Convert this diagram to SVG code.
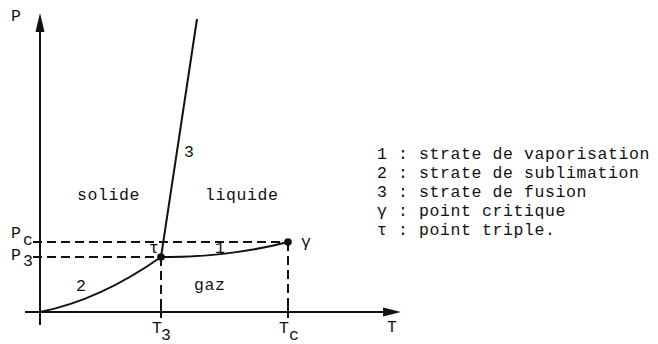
<svg xmlns="http://www.w3.org/2000/svg" width="658" height="344" viewBox="0 0 658 344">
<defs>
<style>
.t{font-family:"Liberation Mono","DejaVu Sans Mono",monospace;font-size:16.5px;letter-spacing:0.6px;fill:#111}
.ln{fill:none;stroke:#111;stroke-width:2}
.ds{fill:none;stroke:#111;stroke-width:2;stroke-dasharray:9 5}
</style>
</defs>
<rect width="658" height="344" fill="#fff"/>
<g id="axes">
<line class="ln" x1="40" y1="325" x2="40" y2="28"/>
<polygon points="40,13 35.5,32 44.5,32" fill="#111"/>
<line class="ln" x1="25" y1="312" x2="386" y2="312"/>
<polygon points="401,312 383,307.5 383,316.5" fill="#111"/>
<text class="t" x="11" y="21">P</text>
<text class="t" x="387" y="332">T</text>
</g>
<g id="connectors">
<line class="ds" x1="33" y1="242" x2="288" y2="242"/>
<line class="ds" x1="33" y1="257" x2="161" y2="257"/>
<line class="ds" x1="161" y1="257" x2="161" y2="312"/>
<line class="ds" x1="288" y1="242" x2="288" y2="312"/>
<line class="ln" x1="161" y1="306" x2="161" y2="318"/>
<line class="ln" x1="288" y1="306" x2="288" y2="318"/>
<path id="sublimation" class="ln" d="M40,312 Q100,300 161,257"/>
<path id="fusion" class="ln" d="M161,257 L197,19"/>
<path id="vaporisation" class="ln" d="M161,257 C200,258 250,252 288,242"/>
</g>
<g id="triple-point">
<circle cx="161" cy="257" r="3.8" fill="#111"/>
<text class="t" x="149" y="253">τ</text>
</g>
<g id="critical-point">
<circle cx="288" cy="242" r="3.8" fill="#111"/>
<text class="t" x="301" y="247">γ</text>
</g>
<g id="labels">
<text class="t" x="76" y="291">2</text>
<text class="t" x="184" y="157">3</text>
<text class="t" x="215" y="253">1</text>
<text class="t" x="77" y="200">solide</text>
<text class="t" x="205" y="200">liquide</text>
<text class="t" x="194" y="290">gaz</text>
<text class="t" x="11" y="238">P</text><text class="t" x="23" y="245">c</text>
<text class="t" x="11" y="260">P</text><text class="t" x="23" y="266">3</text>
<text class="t" x="152" y="333">T</text><text class="t" x="161" y="340">3</text>
<text class="t" x="279" y="333">T</text><text class="t" x="289" y="340">c</text>
</g>
<g id="legend">
<text class="t" x="377" y="159">1 : strate de vaporisation</text>
<text class="t" x="377" y="178">2 : strate de sublimation</text>
<text class="t" x="377" y="197">3 : strate de fusion</text>
<text class="t" x="377" y="216">γ : point critique</text>
<text class="t" x="377" y="235">τ : point triple.</text>
</g>
</svg>
